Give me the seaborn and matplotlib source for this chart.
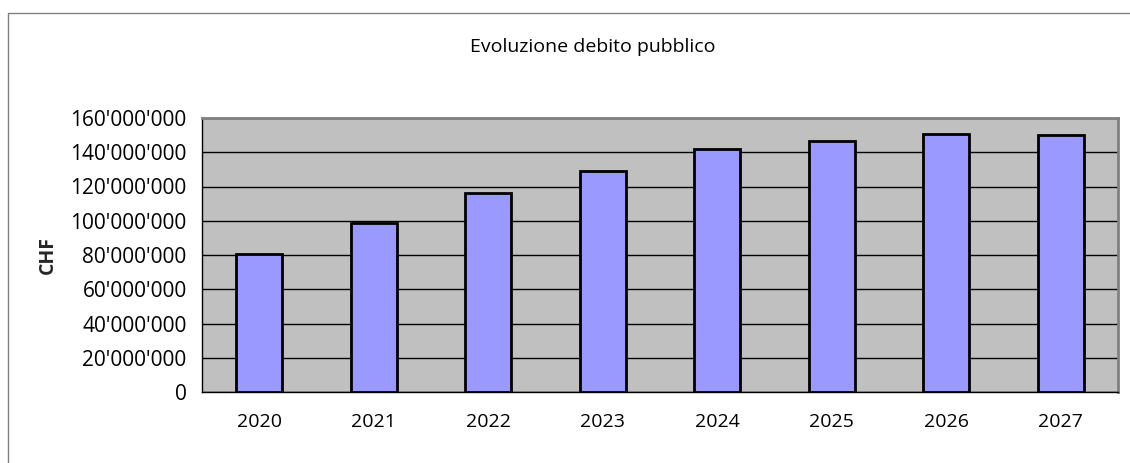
import matplotlib
matplotlib.use("Agg")
import matplotlib.pyplot as plt
import seaborn as sns
from matplotlib.lines import Line2D
from matplotlib.ticker import FuncFormatter, FixedLocator

years = ["2020", "2021", "2022", "2023", "2024", "2025", "2026", "2027"]
debt = [80_500_000, 98_600_000, 116_000_000, 129_000_000,
        142_000_000, 146_800_000, 150_700_000, 149_900_000]
y_ticks = [0, 20e6, 40e6, 60e6, 80e6, 100e6, 120e6, 140e6, 160e6]

sns.set_style("white")
plt.rcParams['font.family'] = ['Open Sans', 'DejaVu Sans']
plt.rcParams['text.color'] = 'black'
plt.rcParams['xtick.color'] = 'black'
plt.rcParams['ytick.color'] = 'black'

W, H = 1130, 463
fig = plt.figure(figsize=(W / 100, H / 100), dpi=100)
# plot area in pixels: x 202-1118, y 118-392
ax = fig.add_axes([202 / W, 1 - 392 / H, (1118 - 202) / W, (392 - 118) / H])
ax.set_facecolor("#C0C0C0")

sns.barplot(x=years, y=debt, color="#9999FF", edgecolor="black",
            linewidth=2, width=0.4, saturation=1, ax=ax, zorder=3)

ax.set_ylim(0, 160e6)
ax.set_xlim(-0.5, len(years) - 0.5)
ax.yaxis.set_major_locator(FixedLocator(y_ticks))
ax.yaxis.set_major_formatter(FuncFormatter(lambda v, p: f"{int(v):,}".replace(",", "'")))
ax.grid(axis="y", color="black", linewidth=1, zorder=1)
ax.set_axisbelow(True)

# x ticks sit between categories, labels centred on bars
ax.set_xticks(range(len(years)))
ax.set_xticklabels(years)
ax.set_xticks([i - 0.5 for i in range(len(years) + 1)], minor=True)
ax.tick_params(axis="x", which="major", length=0, pad=15, labelsize=14)
ax.tick_params(axis="x", which="minor", length=6, width=1, color="black", direction="out")
ax.tick_params(axis="y", length=6, width=1, color="black", direction="out", pad=5, labelsize=15)
ax.set_xlabel("")
ax.set_ylabel("CHF", fontsize=14, fontweight="bold", labelpad=9)

for side in ["top", "right"]:
    ax.spines[side].set_color("#808080")
    ax.spines[side].set_linewidth(2)
for side in ["left", "bottom"]:
    ax.spines[side].set_color("black")
    ax.spines[side].set_linewidth(1)

fig.text(593 / W, 1 - 47 / H, "Evoluzione debito pubblico", ha="center", va="center", fontsize=14)

# outer chart frame
fig.add_artist(Line2D([8 / W, 1], [1 - 13 / H, 1 - 13 / H], transform=fig.transFigure, color="#808080", linewidth=1))
fig.add_artist(Line2D([8 / W, 8 / W], [0, 1 - 13 / H], transform=fig.transFigure, color="#808080", linewidth=1))

fig.savefig("out.png", dpi=100)
